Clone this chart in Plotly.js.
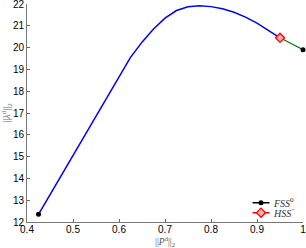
<!DOCTYPE html>
<html><head><meta charset="utf-8">
<script src="https://cdn.plot.ly/plotly-3.0.1.min.js"></script>
<style>html,body{margin:0;padding:0;background:#fff}#c{width:306px;height:248px}</style>
</head><body><div id="c"></div>
<script>
const blueX = [0.425, 0.45, 0.5, 0.55, 0.6, 0.625, 0.65, 0.675, 0.7, 0.725, 0.75, 0.775, 0.8, 0.825, 0.85, 0.875, 0.9, 0.925, 0.95];
const blueY = [12.35, 13.25, 15.05, 16.85, 18.7, 19.55, 20.25, 20.85, 21.35, 21.7, 21.87, 21.92, 21.88, 21.78, 21.62, 21.4, 21.12, 20.8, 20.45];
const greenX = [0.95, 1.0];
const greenY = [20.45, 19.9];
const fssX = [0.425, 1.0];
const fssY = [12.35, 19.9];
const hssX = [0.95];
const hssY = [20.45];
const xTicks = [0.4, 0.5, 0.6, 0.7, 0.8, 0.9, 1];
const yTicks = [12, 13, 14, 15, 16, 17, 18, 19, 20, 21, 22];
const xTitle = '||<i>P</i><sup>d</sup>||<sub>2</sub>';
const yTitle = '||<i>λ</i><sup>d</sup>||<sub>2</sub>';

const data = [
  {x: blueX, y: blueY, mode: 'lines', line: {color: '#0000ff', width: 1.5}, showlegend: false, hoverinfo: 'none', cliponaxis: false},
  {x: greenX, y: greenY, mode: 'lines', line: {color: '#008000', width: 1.2}, showlegend: false, hoverinfo: 'none', cliponaxis: false},
  {x: fssX, y: fssY, mode: 'lines+markers', name: '<i>FSS</i><sup>0</sup>', marker: {color: '#000', size: 5}, line: {color: '#000', width: 0}, cliponaxis: false},
  {x: hssX, y: hssY, mode: 'lines+markers', name: '<i>HSS</i><sup>−</sup>', marker: {color: '#ffb0b0', symbol: 'diamond', size: 7, line: {color: '#ff0000', width: 1.3}}, line: {color: '#ff0000', width: 1.5}, cliponaxis: false}
];

const layout = {
  width: 306, height: 248,
  margin: {l: 27, r: 3, t: 4, b: 26},
  paper_bgcolor: '#fff', plot_bgcolor: '#fff',
  font: {family: 'Liberation Sans, Arial, sans-serif', size: 10, color: '#000'},
  showlegend: true,
  legend: {x: 1, y: -0.065, xanchor: 'right', yanchor: 'bottom', bgcolor: 'rgba(0,0,0,0)', borderwidth: 0,
    font: {family: 'Liberation Serif, serif', size: 10, color: '#333'}, itemwidth: 30, tracegroupgap: 0},
  xaxis: {range: [0.4, 1], tickvals: xTicks, ticktext: xTicks.map(String), ticks: 'inside', ticklen: 3,
    tickcolor: '#666', showline: true, linecolor: '#777', linewidth: 1, showgrid: false, zeroline: false,
    ticklabeloverflow: 'allow', ticklabelstandoff: -2, fixedrange: true},
  yaxis: {range: [12, 22], tickvals: yTicks, ticks: 'inside', ticklen: 3,
    tickcolor: '#666', showline: true, linecolor: '#777', linewidth: 1, showgrid: false, zeroline: false,
    ticklabeloverflow: 'allow', fixedrange: true,
    title: {text: yTitle, font: {family: 'Liberation Serif, serif', size: 10, color: '#666'}, standoff: 4}},
  annotations: [{text: xTitle, xref: 'paper', yref: 'paper', x: 0.5, y: -0.056, xanchor: 'center', yanchor: 'top',
    showarrow: false, borderpad: 0, font: {family: 'Liberation Serif, serif', size: 9.5, color: '#555'}}]
};
Plotly.newPlot('c', data, layout, {staticPlot: true}).then(() => {
  const traces = Array.from(document.querySelectorAll('.legend .traces'));
  let y0 = null;
  traces.forEach((t, i) => {
    const p = t.querySelector('.js-line');
    if (p) {
      if (i === 0) { p.style.strokeWidth = '1.5px'; p.style.stroke = '#000'; }
      p.setAttribute('d', 'M11.5,0h17');
    }
    const tx = t.querySelector('text.legendtext');
    if (tx) tx.setAttribute('x', '33');
    const m = /translate\(([-\d.]+),\s*([-\d.]+)\)/.exec(t.getAttribute('transform') || '');
    if (m) {
      const x = parseFloat(m[1]), y = parseFloat(m[2]);
      if (y0 === null) y0 = y;
      t.setAttribute('transform', 'translate(' + (x + 6) + ',' + (y0 + i * 10) + ')');
    }
  });
});
</script></body></html>
